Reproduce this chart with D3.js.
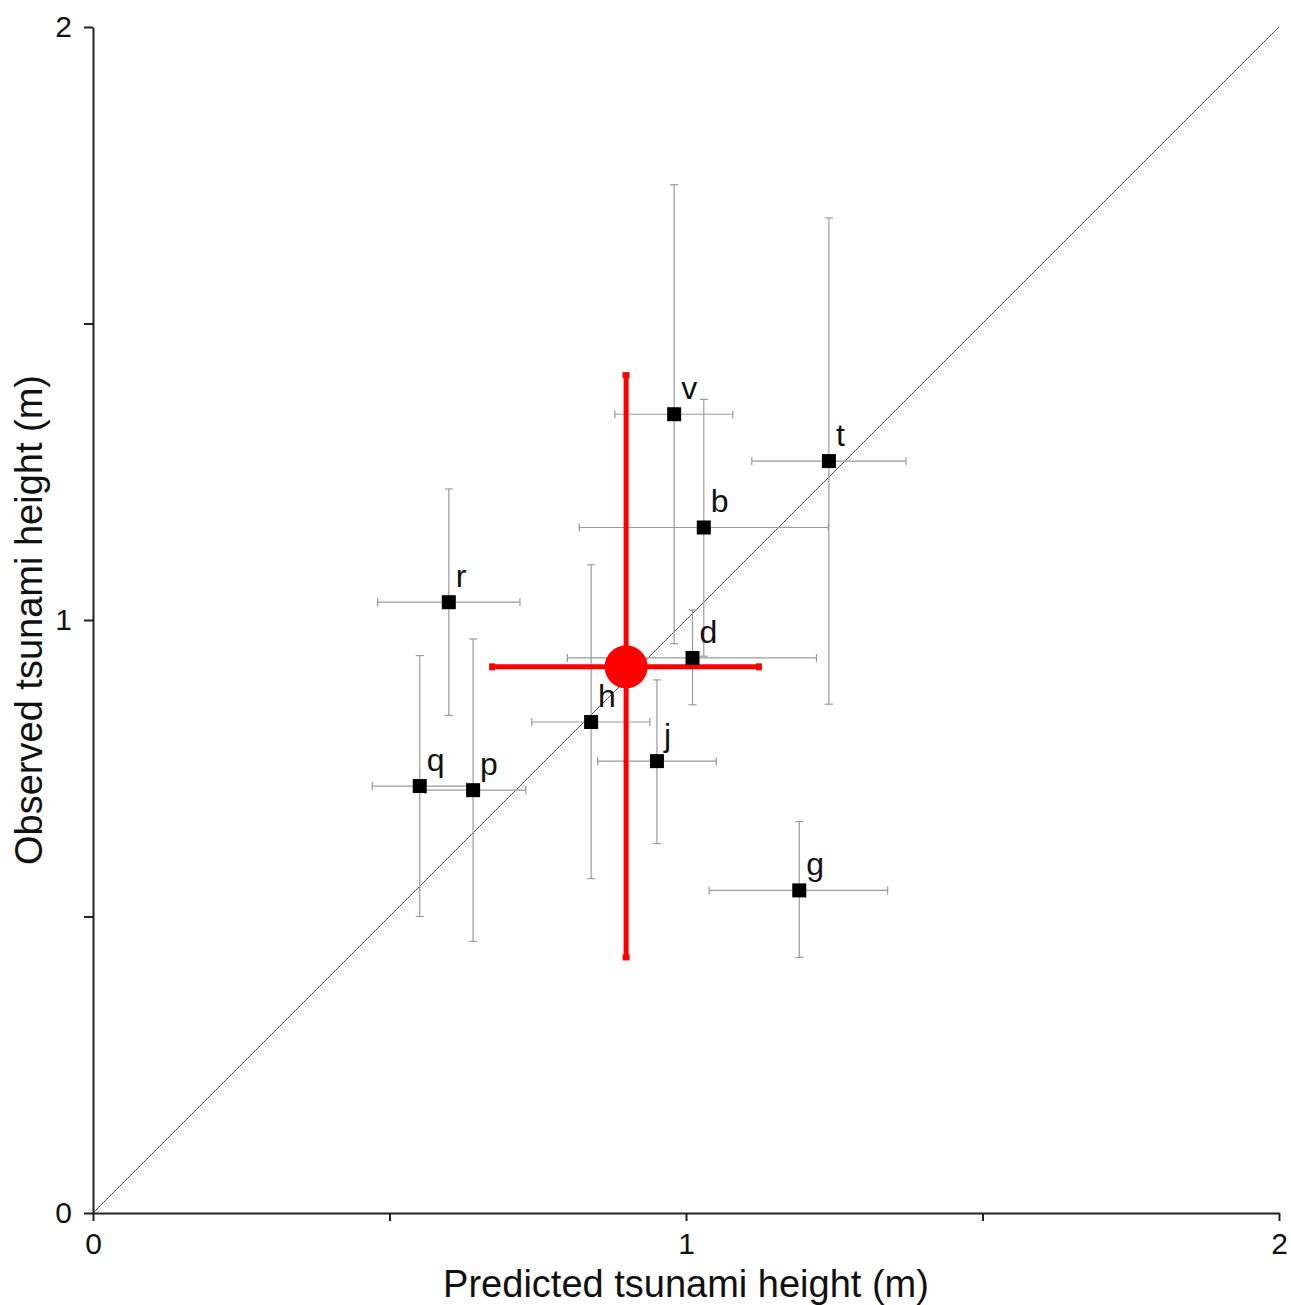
<!DOCTYPE html>
<html lang="en">
<head>
  <meta charset="UTF-8">
  <style>
    body { margin: 0; background: white; }
    svg { font-family: "Liberation Sans", Arial, sans-serif; }
    .axis path, .axis line { stroke: #222; stroke-width: 2px; }
    .axis text { font-size: 30px; fill: #111; }
    .title { font-size: 38px; fill: #111; }
    .lbl { font-size: 32px; fill: #111; }
    .err { stroke: #9a9a9a; stroke-width: 1.2px; }
  </style>
</head>
<body>
  <script src="https://d3js.org/d3.v7.min.js"></script>
  <svg></svg>
  <script>

//data - one entry per site
const sites = ["v", "t", "b", "r", "d", "h", "j", "q", "p", "g"];
const predicted = [0.980, 1.241, 1.030, 0.600, 1.011, 0.840, 0.951, 0.551, 0.641, 1.191];
const observed  = [1.347, 1.268, 1.156, 1.030, 0.936, 0.828, 0.762, 0.720, 0.713, 0.544];
const predLow   = [0.880, 1.111, 0.820, 0.480, 0.800, 0.740, 0.851, 0.471, 0.560, 1.039];
const predHigh  = [1.079, 1.371, 1.240, 0.720, 1.220, 0.939, 1.051, 0.630, 0.730, 1.340];
const obsLow    = [0.960, 0.858, 0.939, 0.839, 0.857, 0.564, 0.623, 0.500, 0.458, 0.431];
const obsHigh   = [1.734, 1.678, 1.372, 1.221, 1.017, 1.093, 0.899, 0.940, 0.968, 0.660];

//mean of all sites (red)
const meanPred = 0.899, meanObs = 0.921;
const meanPredRange = [0.673, 1.123];
const meanObsRange = [0.431, 1.413];

const tickVals = [0, 0.5, 1, 1.5, 2];

const w = 1291;
const h = 1305;

const svg = d3.select("svg")
              .attr("width", w)
              .attr("height", h)

const x = d3.scaleLinear().domain([0, 2]).range([93, 1279]);
const y = d3.scaleLinear().domain([0, 2]).range([1213, 27]);

const fmt = d => (d % 1 === 0 ? d3.format("d")(d) : "");

//1:1 line
svg.append("line")
   .attr("x1", x(0)).attr("y1", y(0))
   .attr("x2", x(2)).attr("y2", y(2))
   .attr("stroke", "#555")
   .attr("stroke-width", 1);

//error bars for each site
const cap = 4;
const g = svg.append("g");
sites.forEach((s, i) => {
  const cx = x(predicted[i]), cy = y(observed[i]);
  g.append("line").attr("class", "err")
   .attr("x1", x(predLow[i])).attr("x2", x(predHigh[i])).attr("y1", cy).attr("y2", cy);
  g.append("line").attr("class", "err")
   .attr("x1", x(predLow[i])).attr("x2", x(predLow[i])).attr("y1", cy - cap).attr("y2", cy + cap);
  g.append("line").attr("class", "err")
   .attr("x1", x(predHigh[i])).attr("x2", x(predHigh[i])).attr("y1", cy - cap).attr("y2", cy + cap);
  g.append("line").attr("class", "err")
   .attr("x1", cx).attr("x2", cx).attr("y1", y(obsLow[i])).attr("y2", y(obsHigh[i]));
  g.append("line").attr("class", "err")
   .attr("x1", cx - cap).attr("x2", cx + cap).attr("y1", y(obsLow[i])).attr("y2", y(obsLow[i]));
  g.append("line").attr("class", "err")
   .attr("x1", cx - cap).attr("x2", cx + cap).attr("y1", y(obsHigh[i])).attr("y2", y(obsHigh[i]));
});

//mean point in red
const red = "#ff0000";
const mx = x(meanPred), my = y(meanObs);
svg.append("line")
   .attr("x1", x(meanPredRange[0])).attr("x2", x(meanPredRange[1]))
   .attr("y1", my).attr("y2", my)
   .attr("stroke", red).attr("stroke-width", 5);
svg.append("line")
   .attr("x1", mx).attr("x2", mx)
   .attr("y1", y(meanObsRange[0])).attr("y2", y(meanObsRange[1]))
   .attr("stroke", red).attr("stroke-width", 5);
//small caps on red bars
[meanPredRange[0], meanPredRange[1]].forEach(v => {
  svg.append("rect").attr("x", x(v) - 3).attr("y", my - 3.5).attr("width", 6).attr("height", 7).attr("fill", red);
});
[meanObsRange[0], meanObsRange[1]].forEach(v => {
  svg.append("rect").attr("x", mx - 3.5).attr("y", y(v) - 3).attr("width", 7).attr("height", 6).attr("fill", red);
});

//site squares
svg.append("g")
   .selectAll("rect")
   .data(sites)
   .enter()
   .append("rect")
   .attr("x", (d, i) => x(predicted[i]) - 7)
   .attr("y", (d, i) => y(observed[i]) - 7)
   .attr("width", 14)
   .attr("height", 14)
   .attr("fill", "black");

svg.append("circle")
   .attr("cx", mx).attr("cy", my)
   .attr("r", 21.5)
   .attr("fill", red);

//site labels
svg.append("g")
   .selectAll("text")
   .data(sites)
   .enter()
   .append("text")
   .attr("class", "lbl")
   .attr("x", (d, i) => x(predicted[i]) + 7)
   .attr("y", (d, i) => y(observed[i]) - 15)
   .text(d => d);

//axes
svg.append("g")
   .attr("class", "axis")
   .attr("transform", `translate(0, ${y(0)})`)
   .call(d3.axisBottom(x).tickValues(tickVals).tickFormat(fmt).tickSize(8).tickSizeOuter(0).tickPadding(12));

svg.append("g")
   .attr("class", "axis")
   .attr("transform", `translate(${x(0)}, 0)`)
   .call(d3.axisLeft(y).tickValues(tickVals).tickFormat(fmt).tickSize(9).tickSizeOuter(0).tickPadding(12));

svg.selectAll(".axis .tick line").attr("stroke-width", 1.5);

//axis titles
svg.append("text")
   .attr("class", "title")
   .attr("x", x(1))
   .attr("y", 1297)
   .attr("text-anchor", "middle")
   .text("Predicted tsunami height (m)");

svg.append("text")
   .attr("class", "title")
   .attr("transform", `translate(42, ${y(1)}) rotate(-90)`)
   .attr("text-anchor", "middle")
   .text("Observed tsunami height (m)");

  </script>
</body>
</html>
